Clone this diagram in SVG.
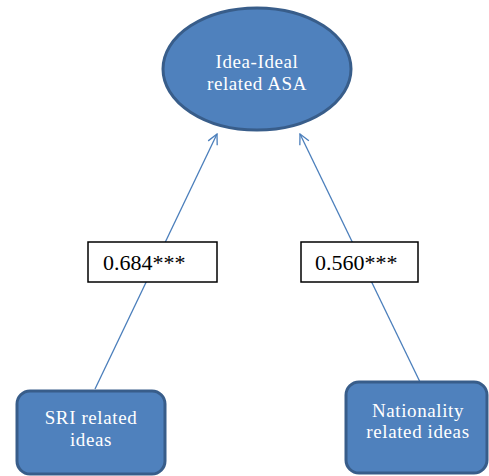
<svg xmlns="http://www.w3.org/2000/svg" width="489" height="476" viewBox="0 0 489 476">
  <defs>
    <style>
      .shape { fill: #4F81BD; stroke: #385D8A; stroke-width: 3; }
      .ntext { font-family: "Liberation Serif", "Times New Roman", serif; font-size: 19px; letter-spacing: 0.6px; fill: #FFFFFF; text-anchor: middle; }
      .conn { stroke: #4A7EBB; stroke-width: 1.3; fill: none; marker-end: url(#open); }
      .lbox { fill: #FFFFFF; stroke: #000000; stroke-width: 1.5; }
      .ltext { font-family: "Liberation Serif", "Times New Roman", serif; font-size: 22px; fill: #000000; }
    </style>
    <marker id="open" viewBox="0 0 12 12" refX="11" refY="6" markerWidth="12" markerHeight="12" markerUnits="userSpaceOnUse" orient="auto">
      <polyline points="1,1 11,6 1,11" fill="none" stroke="#4A7EBB" stroke-width="1.3"/>
    </marker>
  </defs>

  <!-- connectors -->
  <g id="connectors">
    <line class="conn" x1="95" y1="389" x2="217" y2="134"/>
    <line class="conn" x1="420" y1="382" x2="300" y2="134"/>
  </g>

  <!-- path coefficient labels -->
  <g id="label-sri">
    <rect class="lbox" x="88" y="242" width="129" height="40"/>
    <text class="ltext" x="103" y="270">0.684***</text>
  </g>
  <g id="label-nationality">
    <rect class="lbox" x="301" y="242" width="117" height="40"/>
    <text class="ltext" x="315" y="270">0.560***</text>
  </g>

  <!-- outcome -->
  <g id="asa">
    <ellipse class="shape" cx="257" cy="69" rx="94" ry="61"/>
    <text class="ntext" x="257" y="68">Idea-Ideal</text>
    <text class="ntext" x="257" y="90">related ASA</text>
  </g>

  <!-- predictors -->
  <g id="sri">
    <rect class="shape" x="17" y="391" width="148" height="83" rx="13"/>
    <text class="ntext" x="91" y="424">SRI related</text>
    <text class="ntext" x="91" y="446">ideas</text>
  </g>
  <g id="nationality">
    <rect class="shape" x="346" y="382" width="141" height="91" rx="13"/>
    <text class="ntext" x="418" y="417">Nationality</text>
    <text class="ntext" x="418" y="438">related ideas</text>
  </g>
</svg>
